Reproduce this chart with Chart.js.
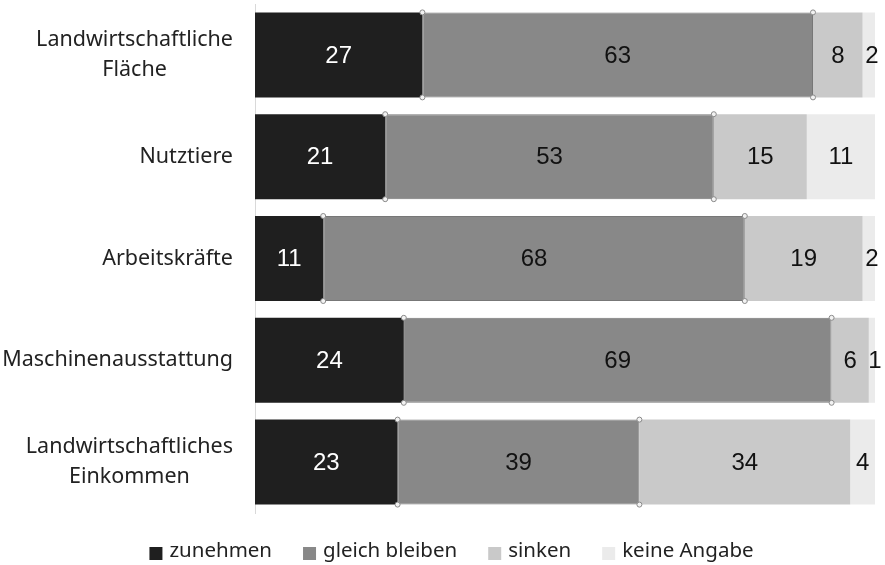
<!DOCTYPE html>
<html>
<head>
<meta charset="utf-8">
<script src="https://cdn.jsdelivr.net/npm/chart.js@4"></script>
<style>
  html, body { margin: 0; padding: 0; background: #fff; }
  #wrap { width: 885px; height: 565px; }
</style>
</head>
<body>
<div id="wrap"><canvas id="chart"></canvas></div>
<script>
// Data
const categories = [
    ['Landwirtschaftliche', 'Fläche'],
    ['Nutztiere'],
    ['Arbeitskräfte'],
    ['Maschinenausstattung'],
    ['Landwirtschaftliches', 'Einkommen']
];
const seriesNames = ['zunehmen', 'gleich bleiben', 'sinken', 'keine Angabe'];
const zunehmen = [27, 21, 11, 24, 23];
const gleichBleiben = [63, 53, 68, 69, 39];
const sinken = [8, 15, 19, 6, 34];
const keineAngabe = [2, 11, 2, 1, 4];

const colors = ['#1f1f1f', '#888888', '#c9c9c9', '#ebebeb'];
const labelColors = ['#ffffff', '#111111', '#111111', '#111111'];
const textFont = '21.5px "Noto Sans", sans-serif';

// Category labels: right-aligned block, lines centred inside it
const categoryLabels = {
    id: 'categoryLabels',
    afterDraw(chart) {
        const ctx = chart.ctx;
        const y = chart.scales.y;
        ctx.save();
        ctx.font = textFont;
        ctx.fillStyle = '#222';
        ctx.textBaseline = 'middle';
        ctx.textAlign = 'center';
        const right = 233;
        const lh = 30;
        categories.forEach((lines, i) => {
            const cy = y.getPixelForValue(i);
            const w = Math.max(...lines.map(l => ctx.measureText(l).width));
            const cx = right - w / 2;
            lines.forEach((l, j) => {
                ctx.fillText(l, cx, cy + (j - (lines.length - 1) / 2) * lh);
            });
        });
        ctx.restore();
    }
};

// Legend drawn by hand so the box/text gaps match
const bottomLegend = {
    id: 'bottomLegend',
    afterDraw(chart) {
        const ctx = chart.ctx;
        ctx.save();
        ctx.font = '20.5px "Noto Sans", sans-serif';
        ctx.textBaseline = 'middle';
        ctx.textAlign = 'left';
        const box = 13, gap = 7, spacing = 31;
        const widths = seriesNames.map(n => box + gap + ctx.measureText(n).width);
        const total = widths.reduce((a, b) => a + b, 0) + spacing * (widths.length - 1);
        let x = 451.5 - total / 2;
        const cy = 551;
        seriesNames.forEach((n, i) => {
            ctx.fillStyle = colors[i];
            ctx.fillRect(x, cy - 4, box, box);
            ctx.fillStyle = '#222';
            ctx.fillText(n, x + box + gap, cy);
            x += widths[i] + spacing;
        });
        ctx.restore();
    }
};

// Value labels + the little corner handles on the grey segment
const valueLabels = {
    id: 'valueLabels',
    afterDatasetsDraw(chart) {
        const ctx = chart.ctx;
        ctx.save();
        ctx.font = '24px "Liberation Sans", Arial, sans-serif';
        ctx.textAlign = 'center';
        ctx.textBaseline = 'middle';
        chart.data.datasets.forEach((ds, di) => {
            const meta = chart.getDatasetMeta(di);
            meta.data.forEach((bar, i) => {
                const v = ds.data[i];
                ctx.fillStyle = labelColors[di];
                let cx = (bar.x + bar.base) / 2;
                if (v <= 2) cx += 3;
                ctx.fillText(String(v), cx, bar.y + 1);
            });
        });
        // handles
        const meta = chart.getDatasetMeta(1);
        ctx.fillStyle = '#f2f2f2';
        ctx.strokeStyle = '#8a8a8a';
        ctx.lineWidth = 1;
        meta.data.forEach(bar => {
            const h = bar.height / 2;
            [[bar.base, bar.y - h], [bar.base, bar.y + h], [bar.x, bar.y - h], [bar.x, bar.y + h]].forEach(p => {
                ctx.beginPath();
                ctx.arc(p[0], p[1], 2.5, 0, Math.PI * 2);
                ctx.fill();
                ctx.stroke();
            });
        });
        ctx.restore();
    }
};

const values = [zunehmen, gleichBleiben, sinken, keineAngabe];

new Chart(document.getElementById('chart'), {
    type: 'bar',
    data: {
        labels: categories.map(c => c.join(' ')),
        datasets: seriesNames.map((name, i) => ({
            label: name,
            data: values[i],
            backgroundColor: colors[i],
            borderColor: i === 1 ? '#777777' : colors[i],
            borderWidth: i === 1 ? 1 : 0,
            borderSkipped: false,
            categoryPercentage: 0.835,
            barPercentage: 1
        }))
    },
    options: {
        indexAxis: 'y',
        responsive: true,
        maintainAspectRatio: false,
        animation: false,
        layout: { padding: { top: 4, right: 10, bottom: 52, left: 0 } },
        scales: {
            x: {
                stacked: true,
                min: 0,
                max: 100,
                display: false
            },
            y: {
                stacked: true,
                grid: { display: false },
                border: { display: true, color: '#d9d9d9', width: 1 },
                ticks: { display: false },
                afterFit(scale) { scale.width = 255; }
            }
        },
        plugins: {
            legend: { display: false },
            tooltip: { enabled: false }
        }
    },
    plugins: [categoryLabels, valueLabels, bottomLegend]
});
</script>
</body>
</html>
